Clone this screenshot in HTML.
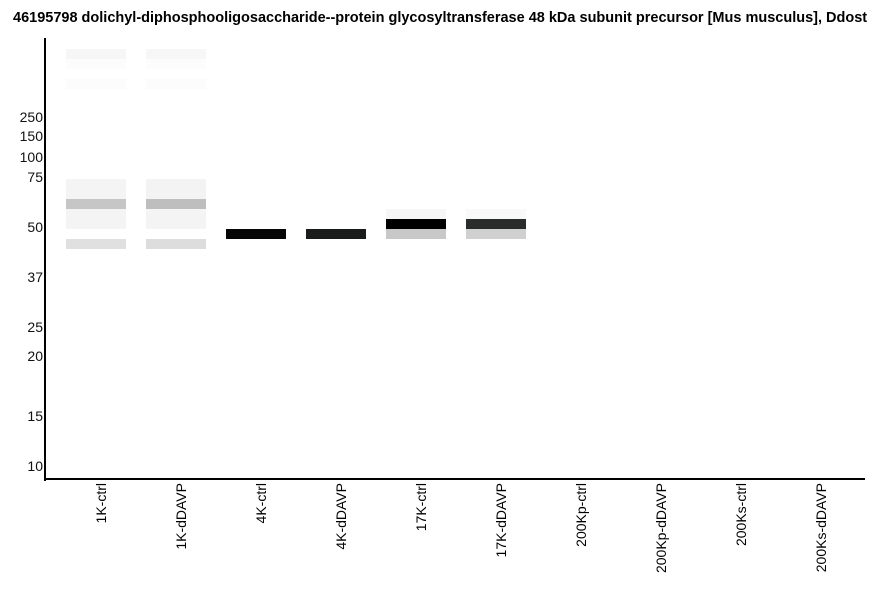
<!DOCTYPE html>
<html><head><style>
body{margin:0;width:886px;height:595px;background:#fff;position:relative;overflow:hidden;font-family:"Liberation Sans",sans-serif}
.t{position:absolute;left:13px;top:10px;font-weight:bold;font-size:14.5px;white-space:nowrap}
.ax{position:absolute;background:#000}
.y{position:absolute;right:843px;font-size:14px;line-height:14px;color:#111}
.b{position:absolute;width:60px}
.x{position:absolute;top:483px;font-size:14px;line-height:14px;white-space:nowrap;transform-origin:0 0;transform:rotate(-90deg) translateX(-100%)}
</style></head><body>
<div class="t">46195798 dolichyl-diphosphooligosaccharide--protein glycosyltransferase 48 kDa subunit precursor [Mus musculus], Ddost</div>
<div class="ax" style="left:44px;top:38px;width:2px;height:443px"></div>
<div class="ax" style="left:44px;top:478px;width:821px;height:2px"></div>
<div class="y" style="top:110px">250</div>
<div class="y" style="top:129px">150</div>
<div class="y" style="top:150px">100</div>
<div class="y" style="top:170px">75</div>
<div class="y" style="top:220px">50</div>
<div class="y" style="top:270px">37</div>
<div class="y" style="top:320px">25</div>
<div class="y" style="top:349px">20</div>
<div class="y" style="top:409px">15</div>
<div class="y" style="top:459px">10</div>

<div class="b" style="left:66px;top:49px;height:10px;background:#f6f6f6"></div>
<div class="b" style="left:66px;top:59px;height:10px;background:#fcfcfc"></div>
<div class="b" style="left:66px;top:79px;height:10px;background:#fcfcfc"></div>
<div class="b" style="left:66px;top:179px;height:20px;background:#f4f4f4"></div>
<div class="b" style="left:66px;top:199px;height:10px;background:#c6c6c6"></div>
<div class="b" style="left:66px;top:209px;height:20px;background:#f4f4f4"></div>
<div class="b" style="left:66px;top:239px;height:10px;background:#e0e0e0"></div>

<div class="b" style="left:146px;top:49px;height:10px;background:#f6f7f6"></div>
<div class="b" style="left:146px;top:59px;height:10px;background:#fcfcfc"></div>
<div class="b" style="left:146px;top:79px;height:10px;background:#fcfcfc"></div>
<div class="b" style="left:146px;top:179px;height:20px;background:#f3f3f3"></div>
<div class="b" style="left:146px;top:199px;height:10px;background:#bebebe"></div>
<div class="b" style="left:146px;top:209px;height:20px;background:#f4f4f4"></div>
<div class="b" style="left:146px;top:239px;height:10px;background:#dddddd"></div>

<div class="b" style="left:226px;top:229px;height:10px;background:#060606"></div>
<div class="b" style="left:306px;top:229px;height:10px;background:#1a1b1b"></div>
<div class="b" style="left:386px;top:209px;height:10px;background:#f6f6f6"></div>
<div class="b" style="left:386px;top:219px;height:10px;background:#000"></div>
<div class="b" style="left:386px;top:229px;height:10px;background:#c8c8c8"></div>
<div class="b" style="left:466px;top:209px;height:10px;background:#f9f9f9"></div>
<div class="b" style="left:466px;top:219px;height:10px;background:#2a2b2b"></div>
<div class="b" style="left:466px;top:229px;height:10px;background:#d0d0d0"></div>

<div class="x" style="left:94px">1K-ctrl</div>
<div class="x" style="left:174px">1K-dDAVP</div>
<div class="x" style="left:254px">4K-ctrl</div>
<div class="x" style="left:334px">4K-dDAVP</div>
<div class="x" style="left:414px">17K-ctrl</div>
<div class="x" style="left:494px">17K-dDAVP</div>
<div class="x" style="left:574px">200Kp-ctrl</div>
<div class="x" style="left:654px">200Kp-dDAVP</div>
<div class="x" style="left:734px">200Ks-ctrl</div>
<div class="x" style="left:814px">200Ks-dDAVP</div>
</body></html>
